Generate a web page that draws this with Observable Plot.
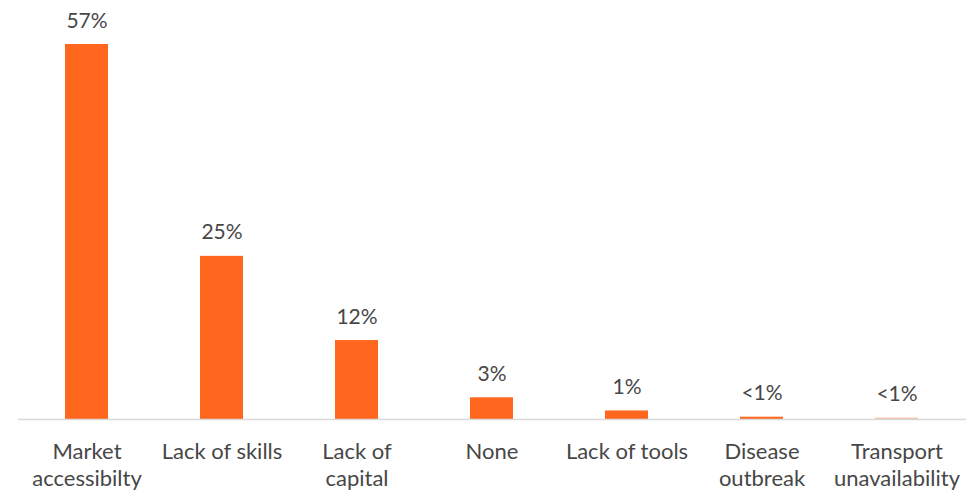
<!DOCTYPE html>
<html>
<head>
<meta charset="utf-8">
<script src="https://cdn.jsdelivr.net/npm/d3@7"></script>
<script src="https://cdn.jsdelivr.net/npm/@observablehq/plot@0.6"></script>
<style>
  html, body { margin: 0; padding: 0; background: #fff; }
  #chart svg { display: block; }
</style>
</head>
<body>
<div id="chart"></div>
<script>
const categories = ["Market\naccessibilty", "Lack of skills", "Lack of\ncapital", "None", "Lack of tools", "Disease\noutbreak", "Transport\nunavailability"];
const values = [57, 24.8, 12, 3.3, 1.3, 0.35, 0.2];
const valueLabels = ["57%", "25%", "12%", "3%", "1%", "<1%", "<1%"];
const barColors = ["#FF671F", "#FF671F", "#FF671F", "#FF671F", "#FF671F", "#FF671F", "#F9BA9C"];

const data = categories.map((c, i) => ({category: c, value: values[i], label: valueLabels[i], color: barColors[i]}));

const chart = Plot.plot({
  width: 966,
  height: 490,
  marginTop: 44,
  marginBottom: 71,
  marginLeft: 18,
  marginRight: 0,
  style: {fontFamily: "Lato, sans-serif", color: "#474747", background: "#fff"},
  x: {domain: categories, paddingInner: 0.68, paddingOuter: 0.34, label: null},
  y: {domain: [0, 57], axis: null},
  marks: [
    Plot.barY(data, {x: "category", y: "value", fill: "color"}),
    Plot.ruleY([0], {stroke: "#d9d9d9", strokeWidth: 1.5}),
    Plot.text(data, {x: "category", y: "value", text: "label", lineAnchor: "bottom", dy: -17, fontSize: 21, fill: "#474747"}),
    Plot.axisX({tickSize: 0, tickPadding: 20, fontSize: 22, lineHeight: 1.23, fill: "#474747", label: null})
  ]
});
document.getElementById("chart").appendChild(chart);
</script>
</body>
</html>
